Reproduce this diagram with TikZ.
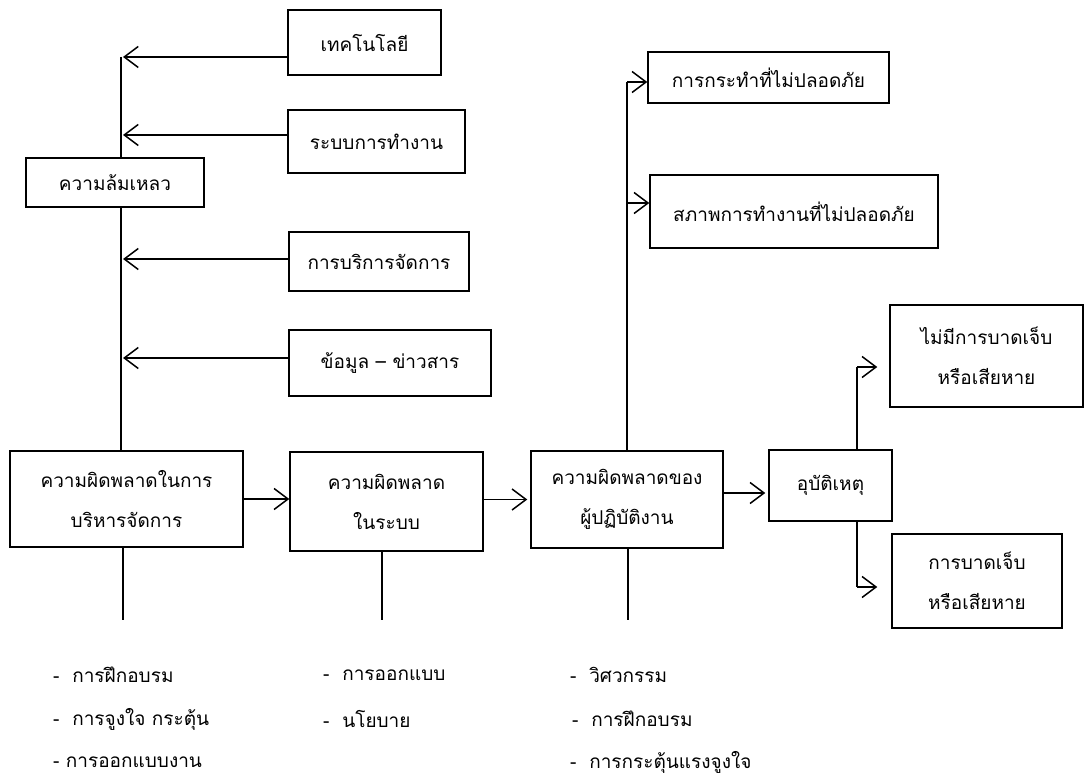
\documentclass[tikz,border=0pt]{standalone}
\usepackage{fontspec}
\newfontfamily\thaifont[Script=Thai]{Loma}
\usetikzlibrary{arrows.meta}
\begin{document}
\begin{tikzpicture}[x=1pt,y=-1pt,
  box/.style={draw,line width=1.5pt,inner sep=0pt,align=center,
    font=\thaifont\fontsize{19}{40}\selectfont},
  link/.style={line width=1.5pt},
  arr/.style={link,-{Straight Barb[length=14pt,width=21pt,line width=1.5pt]}},
  note/.style={anchor=west,inner sep=0pt,font=\thaifont\fontsize{19}{22}\selectfont}]
\useasboundingbox[fill=white] (0,0) rectangle (1085,778);

% factors feeding into failure
\node[box,minimum width=153pt,minimum height=65pt] (tech) at (364.5,42.5) {เทคโนโลยี};
\node[box,minimum width=177pt,minimum height=63pt] (sys)  at (376.5,141.5) {ระบบการทำงาน};
\node[box,minimum width=178pt,minimum height=49pt] (fail) at (115,182.5) {ความล้มเหลว};
\node[box,minimum width=180pt,minimum height=59pt] (mgmt) at (379,261.5) {การบริการจัดการ};
\node[box,minimum width=202pt,minimum height=66pt] (info) at (390,363) {ข้อมูล – ข่าวสาร};

% main chain
\node[box,minimum width=233pt,minimum height=96pt] (mgmtErr) at (126.5,499) {ความผิดพลาดในการ\\บริหารจัดการ};
\node[box,minimum width=193pt,minimum height=99pt] (sysErr) at (386.5,501.5) {ความผิดพลาด\\ในระบบ};
\node[box,minimum width=192pt,minimum height=97pt] (opErr) at (627,499.5) {ความผิดพลาดของ\\ผู้ปฏิบัติงาน};
\node[box,minimum width=123pt,minimum height=71pt] (acc) at (830.5,485.5) {อุบัติเหตุ};

% unsafe acts and conditions
\node[box,minimum width=241pt,minimum height=51pt] (act) at (768.5,77.5) {การกระทำที่ไม่ปลอดภัย};
\node[box,minimum width=288pt,minimum height=73pt] (cond) at (794,211.5) {สภาพการทำงานที่ไม่ปลอดภัย};

% outcomes
\node[box,minimum width=193pt,minimum height=102pt] (noInj) at (986.5,356) {ไม่มีการบาดเจ็บ\\หรือเสียหาย};
\node[box,minimum width=170pt,minimum height=94pt] (inj) at (977,581) {การบาดเจ็บ\\หรือเสียหาย};

% left spine
\coordinate (s1) at (121,57);
\coordinate (s2) at (121,135);
\coordinate (s3) at (121,259);
\coordinate (s4) at (121,358);
\draw[link] (s1) -- (fail.north -| s1);
\draw[link] (fail.south -| s1) -- (mgmtErr.north -| s1);
\draw[arr] (tech.west |- s1) -- ([xshift=2pt]s1);
\draw[arr] (sys.west |- s2) -- ([xshift=2pt]s2);
\draw[arr] (mgmt.west |- s3) -- ([xshift=2pt]s3);
\draw[arr] (info.west |- s4) -- ([xshift=2pt]s4);

% chain arrows
\coordinate (h3) at (0,493);
\draw[arr] (mgmtErr.east) -- (mgmtErr.east -| sysErr.west);
\draw[arr] (sysErr.east |- opErr.east) -- ([xshift=-3pt]opErr.west);
\draw[arr] (opErr.east |- h3) -- ([xshift=-3pt]acc.west |- h3);

% operator spine
\coordinate (r1) at (627,82);
\coordinate (r2) at (627,203);
\draw[link] (opErr.north -| r1) -- (r1);
\draw[arr] (r1) -- (act.west |- r1);
\draw[arr] (r2) -- (cond.west |- r2);

% accident branches
\coordinate (t1) at (857,367);
\coordinate (t2) at (857,587);
\draw[link] (acc.north -| t1) -- (t1);
\draw[arr] (t1) -- ([xshift=-12pt]noInj.west |- t1);
\draw[link] (acc.south -| t2) -- (t2);
\draw[arr] (t2) -- ([xshift=-14pt]inj.west |- t2);

% stubs below the chain
\coordinate (b1) at (123,620);
\coordinate (b2) at (382,620);
\coordinate (b3) at (628,620);
\draw[link] (mgmtErr.south -| b1) -- (b1);
\draw[link] (sysErr.south -| b2) -- (b2);
\draw[link] (opErr.south -| b3) -- (b3);

% remedies
\node[note] (m1) at (53,675) {-~~การฝึกอบรม};
\node[note] (m2) at (53,719) {-~~การจูงใจ กระตุ้น};
\node[note] (m3) at (53,762) {- การออกแบบงาน};
\node[note] (y1) at (323,675) {-~~การออกแบบ};
\node[note] (y2) at (323,719) {-~~นโยบาย};
\node[note] (o1) at (570,675) {-~~วิศวกรรม};
\node[note] (o2) at (572,719) {-~~การฝึกอบรม};
\node[note] (o3) at (570,762) {-~~การกระตุ้นแรงจูงใจ};
\end{tikzpicture}
\end{document}
